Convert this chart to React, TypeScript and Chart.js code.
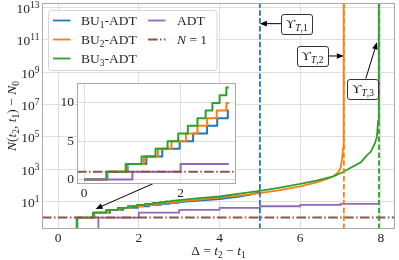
import React, { useEffect, useRef } from "react";
import { Chart, registerables } from "chart.js";

Chart.register(...registerables);

const FONT = '"Liberation Serif", "DejaVu Serif", serif';
const TEXT_COLOR = "#262626";

// ---------- axes ----------
const MAIN_X_LIMITS = [-0.3975, 8.3475];
const MAIN_Y_LIMITS = [0.195, 1.9e13];
const MAIN_X_TICKS = [0, 2, 4, 6, 8];
const MAIN_Y_TICK_EXPONENTS = [1, 3, 5, 7, 9, 11, 13];
const INSET_X_LIMITS = [-0.15, 3.15];
const INSET_Y_LIMITS = [-0.6, 12.6];
const INSET_X_TICKS = [0, 2];
const INSET_Y_TICKS = [0, 5, 10];

// ---------- series: early jump times and counts ----------
const BU1_JUMPS = [0.48, 0.9, 1.29, 1.62, 1.98, 2.26, 2.55, 2.76, 2.98];
const BU1_LEVELS = [1, 2, 3, 4, 5, 6, 7, 8, 9];
const BU2_JUMPS = [0.47, 0.88, 1.24, 1.53, 1.81, 2.11, 2.35, 2.55, 2.75, 2.95];
const BU2_LEVELS = [1, 2, 3, 4, 5, 6, 7, 8, 9, 10];
const BU3_JUMPS = [0.46, 0.86, 1.19, 1.48, 1.73, 1.95, 2.15, 2.35, 2.52, 2.66, 2.81, 2.95];
const BU3_LEVELS = [1, 2, 3, 4, 5, 6, 7, 8, 9, 10, 11, 12];
const ADT_JUMPS = [1, 2, 3, 4, 5, 6, 7];
const ADT_LEVELS = [1, 2, 3, 4, 5, 6, 7];
const ADT_END = 7.95;
const INSET_END = 3.0;

// ---------- series: later part ----------
const BU1_LATE_T = [3.0, 3.5, 4.0, 4.5, 4.8, 4.95, 4.99, 5.0];
const BU1_LATE_N = [9, 11, 14, 20, 27, 36, 48, 55];
const BU2_LATE_T = [3.0, 3.5, 4.0, 4.5, 5.0, 5.5, 6.0, 6.4, 6.7, 6.85, 6.95, 7.0, 7.04, 7.06, 7.07, 7.078, 7.08];
const BU2_LATE_N = [10, 13, 17, 23, 32, 50, 85, 150, 260, 400, 700, 1200, 5000, 2e4, 8e4, 1e6, 1e14];
const BU3_LATE_T = [3.0, 3.5, 4.0, 4.5, 5.0, 5.5, 6.0, 6.4, 6.8, 7.0, 7.25, 7.5, 7.65, 7.75, 7.85, 7.9, 7.93, 7.94, 7.946, 7.95];
const BU3_LATE_N = [12, 16, 20, 30, 45, 72, 120, 195, 340, 550, 1200, 2600, 7000, 12000, 4e4, 1e5, 1e6, 1e7, 1e9, 1e14];

const UPSILON_T = [5.0, 7.08, 7.95];
const N_REF = 1;

const SERIES_COLORS = ["#1f77b4", "#ff7f0e", "#2ca02c", "#9467bd", "#8c564b"];
const DASH_N1 = [9.6, 2.4, 1.5, 2.4];
const DASH_UPS = [5.5, 2.4];

// ---------- annotations (data coordinates) ----------
const UPS_LABELS = ["1", "2", "3"];
const UPS_TIP_Y = [1e12, 1e10, 7e10];
const UPS_TIP_X = [5.0, 7.08, 7.9];
const UPS_TEXT_X = [5.91, 6.3, 7.55];
const UPS_TEXT_Y = [1e12, 1e10, 1e8];
const INSET_ARROW_FROM = [2.41, 145];
const INSET_ARROW_TO = [0.93, 3.4];

type Pt = { x: number; y: number };
type Part = { t: string; it?: boolean; sub?: boolean; sup?: boolean };

function stepPoints(jumps: number[], levels: number[]): Pt[] {
  const pts: Pt[] = [];
  jumps.forEach((t, i) => {
    pts.push({ x: t, y: i === 0 ? 0 : levels[i - 1] });
    pts.push({ x: t, y: levels[i] });
  });
  return pts;
}
function insetSeries(jumps: number[], levels: number[]): Pt[] {
  const js = jumps.filter((t) => t < INSET_END);
  const pts = [{ x: 0, y: 0 }, ...stepPoints(js, levels.slice(0, js.length))];
  pts.push({ x: INSET_END, y: levels[js.length - 1] });
  return pts;
}
function mainSeries(jumps: number[], levels: number[], lateT: number[], lateN: number[]): Pt[] {
  const pts = stepPoints(jumps, levels).map((p) => ({ x: p.x, y: p.y > 0 ? p.y : MAIN_Y_LIMITS[0] }));
  lateT.forEach((t, i) => pts.push({ x: t, y: lateN[i] }));
  return pts;
}

function partFont(p: Part, size: number) {
  const s = p.sub || p.sup ? size * 0.7 : size;
  return `${p.it ? "italic " : ""}${s}px ${FONT}`;
}
function richWidth(ctx: CanvasRenderingContext2D, parts: Part[], size: number) {
  let w = 0;
  for (const p of parts) {
    ctx.font = partFont(p, size);
    w += ctx.measureText(p.t).width;
  }
  return w;
}
function drawRich(ctx: CanvasRenderingContext2D, parts: Part[], x: number, y: number, size: number, align = "left", color = TEXT_COLOR) {
  const w = richWidth(ctx, parts, size);
  let cx = align === "center" ? x - w / 2 : align === "right" ? x - w : x;
  ctx.save();
  ctx.fillStyle = color;
  ctx.textBaseline = "alphabetic";
  ctx.textAlign = "left";
  for (const p of parts) {
    ctx.font = partFont(p, size);
    const dy = p.sub ? size * 0.22 : p.sup ? -size * 0.42 : 0;
    ctx.fillText(p.t, cx, y + dy);
    cx += ctx.measureText(p.t).width;
  }
  ctx.restore();
  return w;
}
function drawArrow(ctx: CanvasRenderingContext2D, x0: number, y0: number, x1: number, y1: number) {
  const a = Math.atan2(y1 - y0, x1 - x0);
  const hl = 7, hw = 2.8;
  const bx = x1 - hl * Math.cos(a), by = y1 - hl * Math.sin(a);
  ctx.save();
  ctx.strokeStyle = "#000";
  ctx.fillStyle = "#000";
  ctx.lineWidth = 1;
  ctx.beginPath();
  ctx.moveTo(x0, y0);
  ctx.lineTo(bx, by);
  ctx.stroke();
  ctx.beginPath();
  ctx.moveTo(x1, y1);
  ctx.lineTo(bx + hw * Math.sin(a), by - hw * Math.cos(a));
  ctx.lineTo(bx - hw * Math.sin(a), by + hw * Math.cos(a));
  ctx.closePath();
  ctx.fill();
  ctx.restore();
}
function roundRect(ctx: CanvasRenderingContext2D, x: number, y: number, w: number, h: number, r: number) {
  ctx.beginPath();
  ctx.moveTo(x + r, y);
  ctx.lineTo(x + w - r, y);
  ctx.arcTo(x + w, y, x + w, y + r, r);
  ctx.lineTo(x + w, y + h - r);
  ctx.arcTo(x + w, y + h, x + w - r, y + h, r);
  ctx.lineTo(x + r, y + h);
  ctx.arcTo(x, y + h, x, y + h - r, r);
  ctx.lineTo(x, y + r);
  ctx.arcTo(x, y, x + r, y, r);
  ctx.closePath();
}

const LEGEND_PARTS: Part[][] = [
  [{ t: "BU" }, { t: "1", sub: true }, { t: "-ADT" }],
  [{ t: "BU" }, { t: "2", sub: true }, { t: "-ADT" }],
  [{ t: "BU" }, { t: "3", sub: true }, { t: "-ADT" }],
  [{ t: "ADT" }],
  [{ t: "N", it: true }, { t: " = 1" }],
];

const framePlugin = {
  id: "frame",
  beforeDraw(chart: any) {
    const a = chart.chartArea;
    const ctx = chart.ctx;
    ctx.save();
    ctx.fillStyle = "#fff";
    ctx.fillRect(a.left, a.top, a.right - a.left, a.bottom - a.top);
    ctx.restore();
  },
  afterDraw(chart: any) {
    const a = chart.chartArea;
    const ctx = chart.ctx;
    ctx.save();
    ctx.strokeStyle = "#a8a8a8";
    ctx.lineWidth = 1;
    ctx.strokeRect(Math.round(a.left) + 0.5, Math.round(a.top) + 0.5, Math.round(a.right - a.left) - 1, Math.round(a.bottom - a.top) - 1);
    ctx.restore();
  },
};

const mainDecor = {
  id: "mainDecor",
  afterDraw(chart: any) {
    const ctx: CanvasRenderingContext2D = chart.ctx;
    const xs = chart.scales.x, ys = chart.scales.y;
    const a = chart.chartArea;
    // y tick labels 10^k
    for (const e of MAIN_Y_TICK_EXPONENTS) {
      const py = ys.getPixelForValue(Math.pow(10, e));
      ctx.save();
      ctx.fillStyle = TEXT_COLOR;
      ctx.textBaseline = "alphabetic";
      ctx.textAlign = "right";
      ctx.font = `9.5px ${FONT}`;
      const ew = ctx.measureText(String(e)).width;
      ctx.fillText(String(e), a.left - 2.5, py + 0.5);
      ctx.font = `13.5px ${FONT}`;
      ctx.fillText("10", a.left - 2.5 - ew, py + 5.5);
      ctx.restore();
    }
    // axis titles
    drawRich(ctx, [{ t: "Δ = " }, { t: "t", it: true }, { t: "2", sub: true }, { t: " − " }, { t: "t", it: true }, { t: "1", sub: true }], (a.left + a.right) / 2, 255, 13.5, "center");
    ctx.save();
    ctx.translate(16, (a.top + a.bottom) / 2);
    ctx.rotate(-Math.PI / 2);
    drawRich(ctx, [{ t: "N", it: true }, { t: "(" }, { t: "t", it: true }, { t: "2", sub: true }, { t: ", " }, { t: "t", it: true }, { t: "1", sub: true }, { t: ") − " }, { t: "N", it: true }, { t: "0", sub: true }], 0, 0, 13.5, "center");
    ctx.restore();

    // legend
    ctx.save();
    roundRect(ctx, 48.5, 10.5, 168.5, 60, 3);
    ctx.fillStyle = "rgba(255,255,255,0.8)";
    ctx.fill();
    ctx.strokeStyle = "#d6d6d6";
    ctx.lineWidth = 1;
    ctx.stroke();
    ctx.restore();
    const rows = [20.5, 39.5, 58.5];
    LEGEND_PARTS.forEach((parts, i) => {
      const col = i < 3 ? 0 : 1;
      const row = i < 3 ? i : i - 3;
      const lx0 = col === 0 ? 53 : 148;
      const tx = col === 0 ? 81 : 177;
      const y = rows[row];
      ctx.save();
      ctx.strokeStyle = SERIES_COLORS[i];
      ctx.lineWidth = 1.8;
      if (i === 4) ctx.setLineDash(DASH_N1);
      ctx.beginPath();
      ctx.moveTo(lx0, y);
      ctx.lineTo(lx0 + 17.5, y);
      ctx.stroke();
      ctx.restore();
      drawRich(ctx, parts, tx, y + 4.7, 13.5, "left");
    });

    // upsilon annotations
    UPS_LABELS.forEach((lab, i) => {
      const parts: Part[] = [{ t: "ϒ" }, { t: "T", it: true, sub: true }, { t: "," + lab, sub: true }];
      const cx = xs.getPixelForValue(UPS_TEXT_X[i]);
      const cy = ys.getPixelForValue(UPS_TEXT_Y[i]);
      const tw = richWidth(ctx, parts, 13.5);
      const bw = tw + 9, bh = 19.5;
      const tipX = xs.getPixelForValue(UPS_TIP_X[i]);
      const tipY = ys.getPixelForValue(UPS_TIP_Y[i]);
      const dx = tipX - cx, dy = tipY - cy;
      const t = Math.min(dx !== 0 ? bw / 2 / Math.abs(dx) : Infinity, dy !== 0 ? bh / 2 / Math.abs(dy) : Infinity);
      drawArrow(ctx, cx + dx * t, cy + dy * t, tipX, tipY);
      ctx.save();
      roundRect(ctx, Math.round(cx - bw / 2) + 0.5, Math.round(cy - bh / 2) + 0.5, Math.round(bw), Math.round(bh), 2.5);
      ctx.fillStyle = "#fff";
      ctx.fill();
      ctx.strokeStyle = "#333";
      ctx.lineWidth = 1;
      ctx.stroke();
      ctx.restore();
      drawRich(ctx, parts, cx, cy + 4.5, 13.5, "center", "#111");
    });

    // arrow from the inset to the zoomed region
    drawArrow(
      ctx,
      xs.getPixelForValue(INSET_ARROW_FROM[0]),
      ys.getPixelForValue(INSET_ARROW_FROM[1]),
      xs.getPixelForValue(INSET_ARROW_TO[0]),
      ys.getPixelForValue(INSET_ARROW_TO[1])
    );
  },
};

function lineDs(data: Pt[], color: string, width: number, order: number, dash?: number[]) {
  return {
    data,
    borderColor: color,
    backgroundColor: color,
    borderWidth: width,
    borderDash: dash || [],
    pointRadius: 0,
    pointHoverRadius: 0,
    fill: false,
    tension: 0,
    borderJoinStyle: "round",
    order,
  };
}

export default function App() {
  const mainRef = useRef<HTMLCanvasElement>(null);
  const insetRef = useRef<HTMLCanvasElement>(null);

  useEffect(() => {
    const [xMin, xMax] = MAIN_X_LIMITS;
    const [yMin, yMax] = MAIN_Y_LIMITS;
    const mainDatasets: any[] = [
      lineDs(mainSeries(BU1_JUMPS, BU1_LEVELS, BU1_LATE_T, BU1_LATE_N), SERIES_COLORS[0], 1.8, 4),
      lineDs(mainSeries(BU2_JUMPS, BU2_LEVELS, BU2_LATE_T, BU2_LATE_N), SERIES_COLORS[1], 1.8, 3),
      lineDs(mainSeries(BU3_JUMPS, BU3_LEVELS, BU3_LATE_T, BU3_LATE_N), SERIES_COLORS[2], 1.8, 2),
      lineDs(mainSeries(ADT_JUMPS, ADT_LEVELS, [ADT_END], [ADT_LEVELS[ADT_LEVELS.length - 1]]), SERIES_COLORS[3], 1.8, 1),
      lineDs([{ x: xMin, y: N_REF }, { x: xMax, y: N_REF }], SERIES_COLORS[4], 2, 0, DASH_N1),
      ...UPSILON_T.map((u, i) => lineDs([{ x: u, y: yMin }, { x: u, y: yMax }], SERIES_COLORS[i], 1.8, -1, DASH_UPS)),
    ];
    const gridCfg = { color: "#dedede", lineWidth: 1, drawTicks: false };
    const main = new Chart(mainRef.current!, {
      type: "line",
      data: { datasets: mainDatasets },
      options: {
        animation: false,
        responsive: false,
        events: [],
        layout: { padding: { top: 3, right: 4, left: 0, bottom: 0 } },
        plugins: { legend: { display: false }, tooltip: { enabled: false } },
        scales: {
          x: {
            type: "linear",
            min: xMin,
            max: xMax,
            afterBuildTicks: (s: any) => { s.ticks = MAIN_X_TICKS.map((v) => ({ value: v })); },
            afterFit: (s: any) => { s.height = 31; },
            grid: gridCfg,
            border: { display: false },
            ticks: { font: { family: FONT, size: 13.5 }, color: TEXT_COLOR, padding: 1, maxRotation: 0 },
          },
          y: {
            type: "logarithmic",
            min: yMin,
            max: yMax,
            afterBuildTicks: (s: any) => { s.ticks = MAIN_Y_TICK_EXPONENTS.map((e) => ({ value: Math.pow(10, e) })); },
            afterFit: (s: any) => { s.width = 42; },
            grid: gridCfg,
            border: { display: false },
            ticks: { display: false },
          },
        },
      } as any,
      plugins: [framePlugin, mainDecor],
    });

    const insetDatasets: any[] = [
      lineDs(insetSeries(BU1_JUMPS, BU1_LEVELS), SERIES_COLORS[0], 2, 4),
      lineDs(insetSeries(BU2_JUMPS, BU2_LEVELS), SERIES_COLORS[1], 2, 3),
      lineDs(insetSeries(BU3_JUMPS, BU3_LEVELS), SERIES_COLORS[2], 2, 2),
      lineDs(insetSeries(ADT_JUMPS, ADT_LEVELS), SERIES_COLORS[3], 2, 1),
      lineDs([{ x: INSET_X_LIMITS[0], y: N_REF }, { x: INSET_X_LIMITS[1], y: N_REF }], SERIES_COLORS[4], 2, 0, DASH_N1),
    ];
    const inset = new Chart(insetRef.current!, {
      type: "line",
      data: { datasets: insetDatasets },
      options: {
        animation: false,
        responsive: false,
        events: [],
        layout: { padding: { top: 83, right: 163, left: 51, bottom: 62 } },
        plugins: { legend: { display: false }, tooltip: { enabled: false } },
        scales: {
          x: {
            type: "linear",
            min: INSET_X_LIMITS[0],
            max: INSET_X_LIMITS[1],
            afterBuildTicks: (s: any) => { s.ticks = INSET_X_TICKS.map((v) => ({ value: v })); },
            afterFit: (s: any) => { s.height = 14; },
            grid: gridCfg,
            border: { display: false },
            ticks: { font: { family: FONT, size: 13.5 }, color: TEXT_COLOR, padding: 1, maxRotation: 0 },
          },
          y: {
            type: "linear",
            min: INSET_Y_LIMITS[0],
            max: INSET_Y_LIMITS[1],
            afterBuildTicks: (s: any) => { s.ticks = INSET_Y_TICKS.map((v) => ({ value: v })); },
            afterFit: (s: any) => { s.width = 26; },
            grid: gridCfg,
            border: { display: false },
            ticks: { font: { family: FONT, size: 13.5 }, color: TEXT_COLOR, padding: 3 },
          },
        },
      } as any,
      plugins: [framePlugin],
    });

    return () => {
      main.destroy();
      inset.destroy();
    };
  }, []);

  return (
    <div style={{ position: "fixed", left: 0, top: 0, width: 399, height: 260, background: "#fff" }}>
      <canvas ref={mainRef} width={399} height={260} style={{ position: "absolute", left: 0, top: 0, display: "block" }} />
      <canvas ref={insetRef} width={399} height={260} style={{ position: "absolute", left: 0, top: 0, display: "block" }} />
    </div>
  );
}
